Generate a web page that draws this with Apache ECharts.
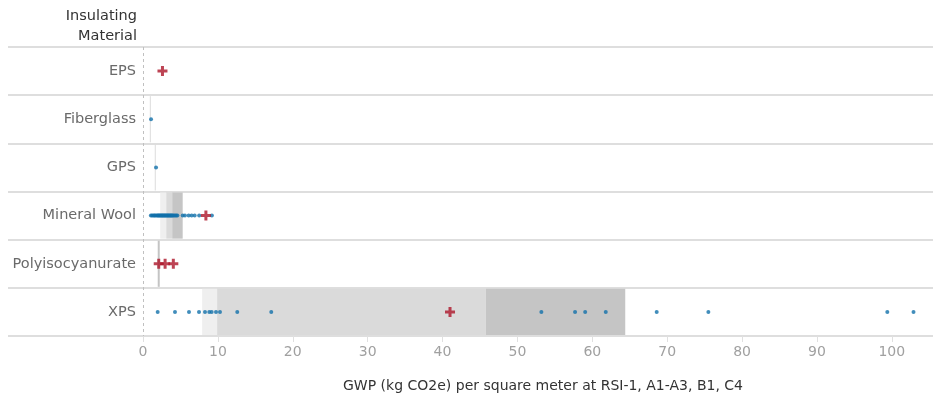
<!DOCTYPE html>
<html>
<head>
<meta charset="utf-8">
<script src="https://cdn.jsdelivr.net/npm/echarts@6/dist/echarts.min.js"></script>
<style>
  html, body { margin: 0; padding: 0; background: #fff; }
  #chart { width: 933px; height: 400px; }
</style>
</head>
<body>
<div id="chart"></div>
<script>
// GWP per square meter by insulating material

const materials = ['EPS', 'Fiberglass', 'GPS', 'Mineral Wool', 'Polyisocyanurate', 'XPS'];

// blue dots: individual products
const fiberglassPoints = [1.07];
const gpsPoints = [1.74];
const mineralWoolPoints = [
  1.05, 1.2, 1.35, 1.5, 1.6, 1.75, 1.9, 2.0, 2.1, 2.2, 2.3, 2.4, 2.5, 2.6, 2.7,
  2.8, 2.9, 3.0, 3.1, 3.2, 3.3, 3.4, 3.5, 3.6, 3.7, 3.8, 3.9, 4.0, 4.15, 4.3,
  4.45, 4.6, 5.3, 5.6, 6.1, 6.5, 6.9, 7.5, 9.2
];
const xpsPoints = [
  1.96, 4.27, 6.14, 7.48, 8.28, 8.85, 9.17, 9.75, 10.28, 12.59, 17.13,
  53.2, 57.7, 59.05, 61.8, 68.6, 75.5, 99.4, 102.9
];

// red crosses: averages
const epsCrosses = [2.6];
const mineralWoolCrosses = [8.4];
const polyisoCrosses = [2.1, 2.95, 4.05];
const xpsCrosses = [41.0];

// reference bands: [row, from, to, shade]
const bands = [
  [3, 2.3, 3.1, 0], [3, 3.1, 3.9, 1], [3, 3.9, 5.3, 2],
  [5, 7.9, 9.9, 0], [5, 9.9, 45.8, 1], [5, 45.8, 64.4, 2]
];
// reference lines: [row, value, style]
const refLines = [[1, 0.98, 0], [2, 1.64, 0], [4, 2.1, 1]];

const shades = ['#efefef', '#dadada', '#c5c5c5'];
const blue = '#1170aa';
const red = '#ac1529';
const plus = 'path://M3.5,0H6.5V3.5H10V6.5H6.5V10H3.5V6.5H0V3.5H3.5Z';
const font = 'DejaVu Sans';

const toPairs = (vals, cat) => vals.map(v => [v, cat]);

const chart = echarts.init(document.getElementById('chart'));

const option = {
  animation: false,
  grid: [
    { left: 143, right: 0, top: 47, bottom: 64 },
    { left: 8, width: 135, top: 47, bottom: 64 }
  ],
  xAxis: [
    {
      type: 'value',
      min: 0,
      max: 105.5,
      interval: 10,
      axisLine: { show: false },
      axisTick: { show: true, length: 6, lineStyle: { color: '#e0e0e0' } },
      splitLine: { show: false },
      axisLabel: {
        showMaxLabel: false,
        color: '#a0a0a0',
        fontSize: 14,
        fontFamily: font,
        margin: 9
      },
      name: 'GWP (kg CO2e) per square meter at RSI-1, A1-A3, B1, C4',
      nameLocation: 'middle',
      nameGap: 43,
      nameTextStyle: {
        color: '#333',
        fontSize: 14,
        fontFamily: font,
        padding: [0, 0, 0, 10]
      }
    },
    { type: 'value', gridIndex: 1, show: false, min: 0, max: 1 }
  ],
  yAxis: [
    {
      type: 'category',
      data: materials,
      inverse: true,
      axisLine: { show: false },
      axisTick: { show: false },
      splitLine: { show: true, lineStyle: { color: '#dedede', width: 2 } },
      axisLabel: {
        color: '#6a6a6a',
        fontSize: 14.5,
        fontFamily: font,
        margin: 7
      }
    },
    {
      type: 'category',
      gridIndex: 1,
      data: materials,
      inverse: true,
      axisLine: { show: false },
      axisTick: { show: false },
      axisLabel: { show: false },
      splitLine: { show: true, lineStyle: { color: '#dedede', width: 2 } }
    }
  ],
  graphic: [
    {
      type: 'text',
      x: 137,
      y: 6,
      style: {
        text: 'Insulating\nMaterial',
        textAlign: 'right',
        fill: '#333',
        font: '14.5px "DejaVu Sans"',
        lineHeight: 20
      }
    }
  ],
  series: [
    {
      type: 'custom',
      silent: true,
      z: 1,
      encode: { x: [1, 2], y: 0 },
      data: bands,
      renderItem: (params, api) => {
        const cat = api.value(0);
        const p0 = api.coord([api.value(1), cat]);
        const p1 = api.coord([api.value(2), cat]);
        const h = api.size([0, 1])[1];
        return {
          type: 'rect',
          shape: { x: p0[0], y: p0[1] - h / 2 + 1, width: p1[0] - p0[0], height: h - 2 },
          style: { fill: shades[api.value(3)] }
        };
      }
    },
    {
      type: 'custom',
      silent: true,
      z: 2,
      encode: { x: 1, y: 0 },
      data: refLines,
      renderItem: (params, api) => {
        const cat = api.value(0);
        const p = api.coord([api.value(1), cat]);
        const h = api.size([0, 1])[1];
        const strong = api.value(2) === 1;
        return {
          type: 'line',
          shape: { x1: p[0], y1: p[1] - h / 2 + 1, x2: p[0], y2: p[1] + h / 2 - 1 },
          style: { stroke: strong ? '#c4c4c4' : '#dcdcdc', lineWidth: strong ? 2 : 1 }
        };
      }
    },
    {
      type: 'scatter',
      z: 3,
      symbol: 'circle',
      symbolSize: 4,
      itemStyle: { color: blue },
      data: [].concat(
        toPairs(fiberglassPoints, 'Fiberglass'),
        toPairs(gpsPoints, 'GPS'),
        toPairs(mineralWoolPoints, 'Mineral Wool'),
        toPairs(xpsPoints, 'XPS')
      ),
      markLine: {
        silent: true,
        symbol: 'none',
        label: { show: false },
        lineStyle: { color: '#c0c0c0', type: [3, 3], width: 1 },
        data: [{ xAxis: 0 }]
      }
    },
    {
      type: 'scatter',
      z: 4,
      symbol: plus,
      symbolSize: 10,
      itemStyle: { color: red },
      data: [].concat(
        toPairs(epsCrosses, 'EPS'),
        toPairs(mineralWoolCrosses, 'Mineral Wool'),
        toPairs(polyisoCrosses, 'Polyisocyanurate'),
        toPairs(xpsCrosses, 'XPS')
      )
    }
  ]
};

chart.setOption(option);
</script>
</body>
</html>
